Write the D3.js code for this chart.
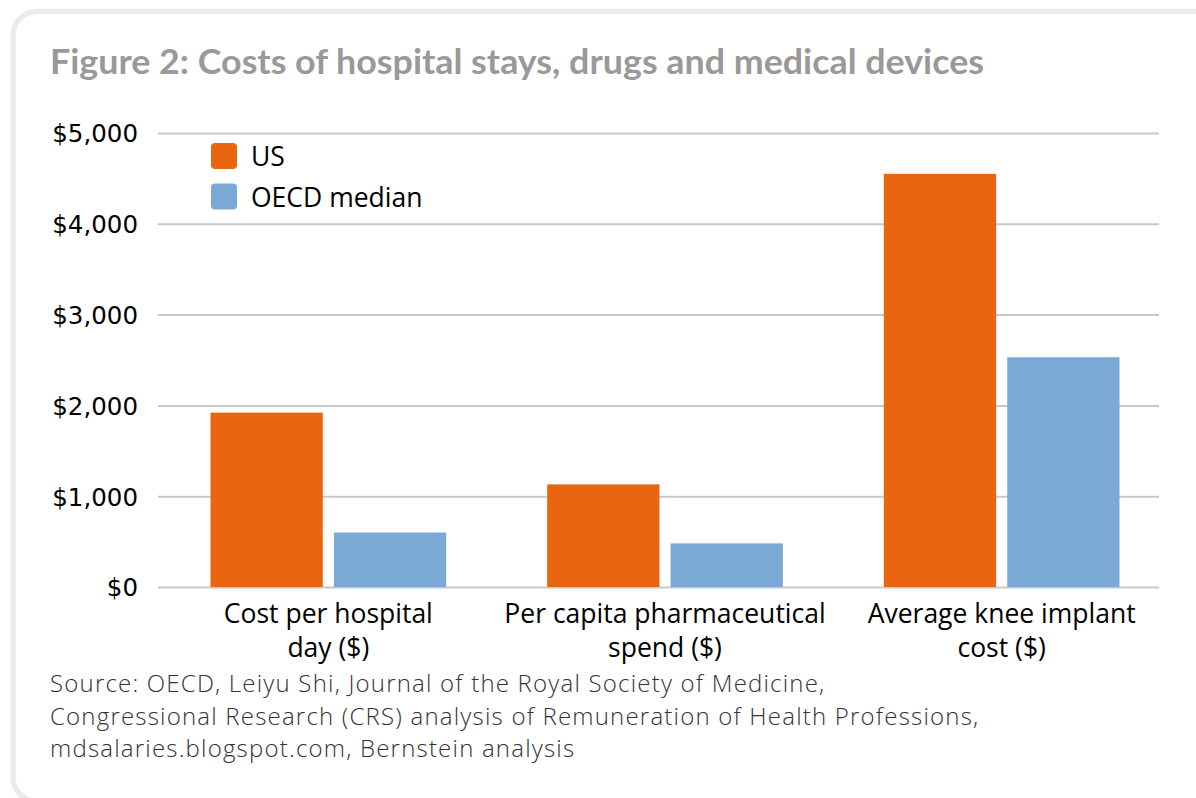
<!DOCTYPE html>
<html>
<head>
<meta charset="utf-8">
<script src="https://cdn.jsdelivr.net/npm/d3@7"></script>
<style>
  body { margin: 0; background: #fff; }
  svg { display: block; }
</style>
</head>
<body>
<div id="chart"></div>
<script>
// values
var categories = [
    ["Cost per hospital", "day ($)"],
    ["Per capita pharmaceutical", "spend ($)"],
    ["Average knee implant", "cost ($)"]
];
var seriesNames = ["US", "OECD median"];
var usValues = [1920, 1130, 4550];
var oecdValues = [600, 480, 2530];
var yTicks = [0, 1000, 2000, 3000, 4000, 5000];
var sourceLines = [
    "Source: OECD, Leiyu Shi, Journal of the Royal Society of Medicine,",
    "Congressional Research (CRS) analysis of Remuneration of Health Professions,",
    "mdsalaries.blogspot.com, Bernstein analysis"
];

var width = 1196,
    height = 798;
var colors = { "US": "#e9650f", "OECD median": "#7aa9d6" };
var bodyFont = "'Open Sans', Lato, sans-serif";

var svg = d3.select("#chart").append("svg")
    .attr("width", width)
    .attr("height", height);

// card border
svg.append("rect")
    .attr("x", 13).attr("y", 11.5)
    .attr("width", 1210).attr("height", 790)
    .attr("rx", 24)
    .attr("fill", "none")
    .attr("stroke", "#ebebeb")
    .attr("stroke-width", 5.5);

svg.append("text")
    .attr("x", 50).attr("y", 74)
    .attr("textLength", 934)
    .attr("lengthAdjust", "spacingAndGlyphs")
    .style("font-family", "Lato, 'Open Sans', sans-serif")
    .style("font-weight", "bold")
    .style("font-size", "34px")
    .style("fill", "#999999")
    .text("Figure 2: Costs of hospital stays, drugs and medical devices");

var rows = categories.map(function (c, i) {
    return { label: c, US: usValues[i], "OECD median": oecdValues[i] };
});

var x0 = d3.scaleBand()
    .domain(d3.range(categories.length))
    .range([160, 1170])
    .paddingInner(0.3)
    .paddingOuter(0.15);

var x1 = d3.scaleBand()
    .domain(seriesNames)
    .range([0, x0.bandwidth()])
    .paddingInner(0.09);

var y = d3.scaleLinear()
    .domain([0, 5000])
    .range([587, 133]);

// gridlines + y labels via axis
var yAxis = d3.axisLeft(y)
    .tickValues(yTicks)
    .tickSize(-1001)
    .tickPadding(20)
    .tickFormat(function (d) { return "$" + d3.format(",")(d); });

var gy = svg.append("g")
    .attr("transform", "translate(158,0)")
    .call(yAxis);
gy.select(".domain").remove();
gy.selectAll(".tick line")
    .attr("stroke", "#c8c8c8")
    .attr("stroke-width", 2);
gy.selectAll(".tick text")
    .attr("dy", "0.36em")
    .style("font-family", "'DejaVu Sans', sans-serif")
    .style("font-size", "24.5px")
    .style("fill", "#000");

// bars
var groups = svg.append("g").selectAll("g")
    .data(rows)
    .enter().append("g")
    .attr("transform", function (d, i) { return "translate(" + x0(i) + ",0)"; });

groups.selectAll("rect")
    .data(function (d) { return seriesNames.map(function (s) { return { key: s, value: d[s] }; }); })
    .enter().append("rect")
    .attr("x", function (d) { return x1(d.key); })
    .attr("y", function (d) { return y(d.value); })
    .attr("width", x1.bandwidth())
    .attr("height", function (d) { return y(0) - y(d.value); })
    .attr("fill", function (d) { return colors[d.key]; });

// category labels
var catText = svg.append("g").selectAll("text")
    .data(categories)
    .enter().append("text")
    .attr("x", function (d, i) { return x0(i) + x0.bandwidth() / 2; })
    .attr("y", 623)
    .attr("text-anchor", "middle")
    .style("font-family", bodyFont)
    .style("font-size", "26.5px")
    .style("fill", "#000");

catText.selectAll("tspan")
    .data(function (d) { return d; })
    .enter().append("tspan")
    .attr("x", function () { return d3.select(this.parentNode).attr("x"); })
    .attr("dy", function (d, i) { return i == 0 ? 0 : 34; })
    .text(function (d) { return d; });

// legend
var legend = svg.append("g").selectAll("g")
    .data(seriesNames)
    .enter().append("g")
    .attr("transform", function (d, i) { return "translate(211," + (143 + i * 40.5) + ")"; });

legend.append("rect")
    .attr("width", 26).attr("height", 26)
    .attr("rx", 4)
    .attr("fill", function (d) { return colors[d]; });

legend.append("text")
    .attr("x", 40).attr("y", 23)
    .style("font-family", bodyFont)
    .style("font-size", "26.5px")
    .style("fill", "#000")
    .text(function (d) { return d; });

// source note (slightly smaller + tracked so the lines don't collide)
svg.append("g").selectAll("text")
    .data(sourceLines)
    .enter().append("text")
    .attr("x", 50)
    .attr("y", function (d, i) { return 692 + i * 32.7; })
    .style("font-family", bodyFont)
    .style("font-weight", 300)
    .style("font-size", "24px")
    .style("letter-spacing", "1.2px")
    .style("fill", "#333")
    .text(function (d) { return d; });
</script>
</body>
</html>
